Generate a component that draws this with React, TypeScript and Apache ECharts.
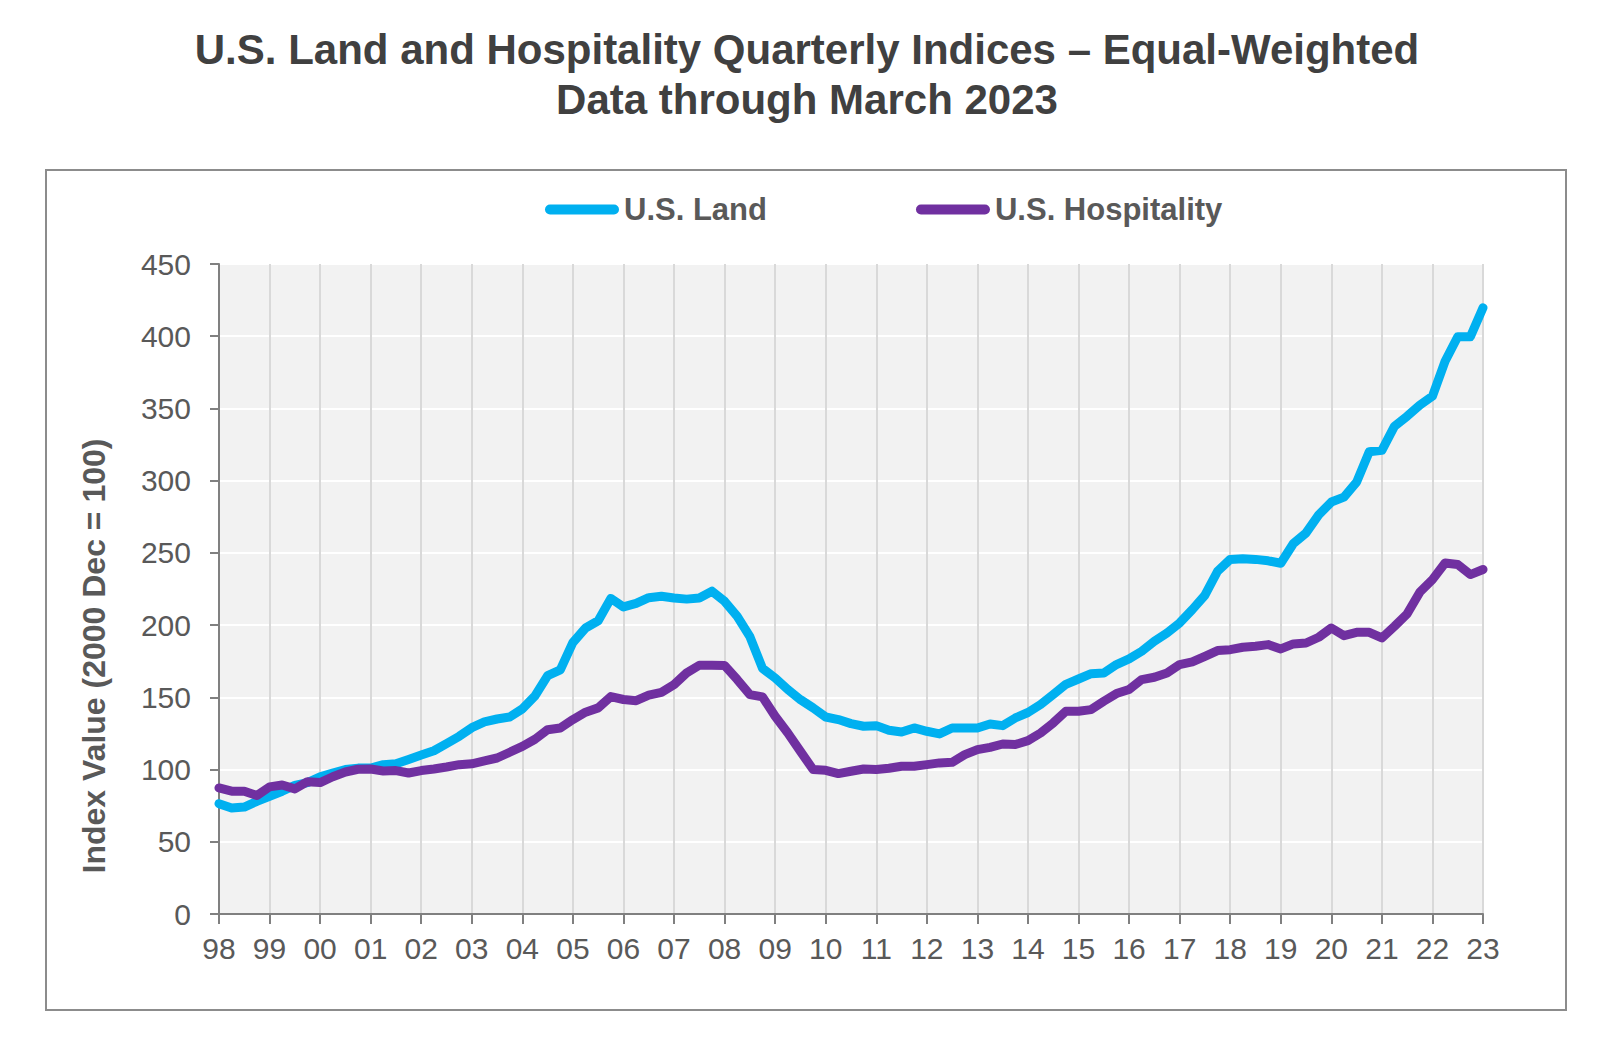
import React, { useEffect, useRef } from "react";
import * as echarts from "echarts";

const yearLabels = ["98","99","00","01","02","03","04","05","06","07","08","09","10","11","12","13","14","15","16","17","18","19","20","21","22","23"];

// quarterly values, 1998 Q1 .. 2023 Q1
const landValues = [
  76.4, 73.4, 74, 78,
  81.5, 85, 89, 91,
  95, 97.6, 100, 101,
  101, 103.4, 104, 107,
  110, 113, 118, 123,
  129, 133, 135, 136.4,
  142, 151, 165, 169,
  188, 198, 203, 218.5,
  212.6, 215, 219, 220,
  218.8, 218, 218.8, 223.5,
  216.5, 206, 192, 170,
  163.4, 155.4, 148.4, 142.7,
  136.4, 134.6, 131.8, 130,
  130.4, 127.2, 126, 128.8,
  126.5, 124.7, 128.8, 128.8,
  128.8, 131.5, 130.4, 135.7,
  139.5, 145, 151.9, 159,
  162.7, 166.4, 166.9, 172.7,
  176.6, 181.9, 188.8, 194.6,
  201.5, 210.7, 220.7, 237.3,
  245.5, 246, 245.5, 244.5,
  242.8, 256.5, 263.8, 276.3,
  285.2, 288.6, 299, 320,
  321, 337.7, 344.6, 352.3,
  358.5, 382.7, 399.6, 399.6,
  419.7,
];

const hospitalityValues = [
  87.3, 85, 85, 82,
  88, 89.3, 86.6, 91.6,
  91, 95, 98.3, 100.2,
  100.4, 99, 99.3, 97.6,
  99.3, 100.4, 101.8, 103.4,
  104, 106, 108, 112,
  116, 121, 127.6, 128.8,
  134.6, 139.7, 142.7, 150.5,
  148.5, 147.7, 151.5, 153.5,
  158.8, 166.9, 172.2, 172.2,
  172, 162.3, 151.9, 150.3,
  136.9, 125.3, 112.6, 100,
  99.5, 97.2, 98.8, 100.4,
  100, 100.9, 102.3, 102.3,
  103.4, 104.6, 105, 110.3,
  113.8, 115.4, 117.7, 117.3,
  120, 125.3, 132.3, 140.4,
  140.4, 141.5, 147.3, 152.6,
  155.4, 162.3, 163.9, 166.9,
  172.7, 174.5, 178.4, 182.4,
  183, 184.7, 185.4, 186.5,
  183.5, 187, 187.6, 191.6,
  198, 192.7, 195, 195,
  191.1, 199.2, 207.8, 222.8,
  231.5, 243, 241.9, 235,
  238.5,
];

const seriesNames = ["U.S. Land", "U.S. Hospitality"];
const seriesColors = ["#00B0F0", "#7030A0"];

const titleLines = [
  "U.S. Land and Hospitality Quarterly Indices \u2013 Equal-Weighted",
  "Data through March 2023",
];
const yAxisTitle = "Index Value (2000 Dec = 100)";

const FONT = "'Liberation Sans', Arial, Helvetica, sans-serif";

export default function App() {
  const ref = useRef<HTMLDivElement>(null);

  useEffect(() => {
    if (!ref.current) return;
    const chart = echarts.init(ref.current, null, { renderer: "svg" });

    const categories: string[] = [];
    yearLabels.forEach((y, idx) => {
      const qs = idx === yearLabels.length - 1 ? 1 : 4;
      for (let q = 1; q <= qs; q++) categories.push(`${y}Q${q}`);
    });

    const pill = "path://M5,0 L69,0 A5,5 0 0 1 69,10 L5,10 A5,5 0 0 1 5,0 Z";

    chart.setOption({
      animation: false,
      textStyle: { fontFamily: FONT },
      graphic: [
        {
          type: "rect",
          shape: { x: 46, y: 170, width: 1520, height: 840 },
          style: { fill: "none", stroke: "#8c8c8c", lineWidth: 2 },
          silent: true,
        },
        ...titleLines.map((t, i) => ({
          type: "text",
          x: 807,
          y: 49 + i * 50,
          style: {
            text: t,
            fill: "#404040",
            font: `bold 42px ${FONT}`,
            textAlign: "center",
            textVerticalAlign: "middle",
          },
        })),
        {
          type: "text",
          x: 94,
          y: 656,
          rotation: Math.PI / 2,
          style: {
            text: yAxisTitle,
            fill: "#595959",
            font: `bold 32px ${FONT}`,
            textAlign: "center",
            textVerticalAlign: "middle",
          },
        },
      ],
      legend: {
        data: seriesNames,
        left: 540,
        top: 189,
        itemWidth: 74,
        itemHeight: 10,
        itemGap: 149,
        icon: pill,
        textStyle: {
          fontSize: 31,
          fontWeight: "bold",
          color: "#595959",
          fontFamily: FONT,
        },
      },
      grid: {
        left: 219,
        top: 264,
        width: 1264,
        height: 650,
        show: true,
        backgroundColor: "#f2f2f2",
        borderWidth: 0,
        containLabel: false,
      },
      xAxis: {
        type: "category",
        data: categories,
        boundaryGap: false,
        axisLine: { show: true, lineStyle: { color: "#808080", width: 2 } },
        axisTick: {
          show: true,
          interval: 3,
          length: 10,
          lineStyle: { color: "#808080", width: 2 },
        },
        axisLabel: {
          interval: 3,
          margin: 19,
          fontSize: 30,
          color: "#595959",
          fontFamily: FONT,
          formatter: (v: string) => v.slice(0, 2),
        },
        splitLine: {
          show: true,
          interval: 3,
          lineStyle: { color: "#d9d9d9", width: 2 },
        },
      },
      yAxis: {
        type: "value",
        min: 0,
        max: 450,
        interval: 50,
        axisLine: { show: true, lineStyle: { color: "#808080", width: 2 } },
        axisTick: {
          show: true,
          length: 9,
          lineStyle: { color: "#808080", width: 2 },
        },
        axisLabel: {
          margin: 28,
          fontSize: 30,
          color: "#595959",
          fontFamily: FONT,
        },
        splitLine: { show: true, lineStyle: { color: "#ffffff", width: 2 } },
      },
      series: [landValues, hospitalityValues].map((d, i) => ({
        name: seriesNames[i],
        type: "line",
        data: d,
        showSymbol: false,
        symbol: "none",
        itemStyle: { color: seriesColors[i] },
        lineStyle: { color: seriesColors[i], width: 9, cap: "round", join: "round" },
        z: 3 + i,
      })),
    });

    return () => chart.dispose();
  }, []);

  return (
    <div
      ref={ref}
      style={{ position: "absolute", left: 0, top: 0, width: 1600, height: 1056 }}
    />
  );
}
